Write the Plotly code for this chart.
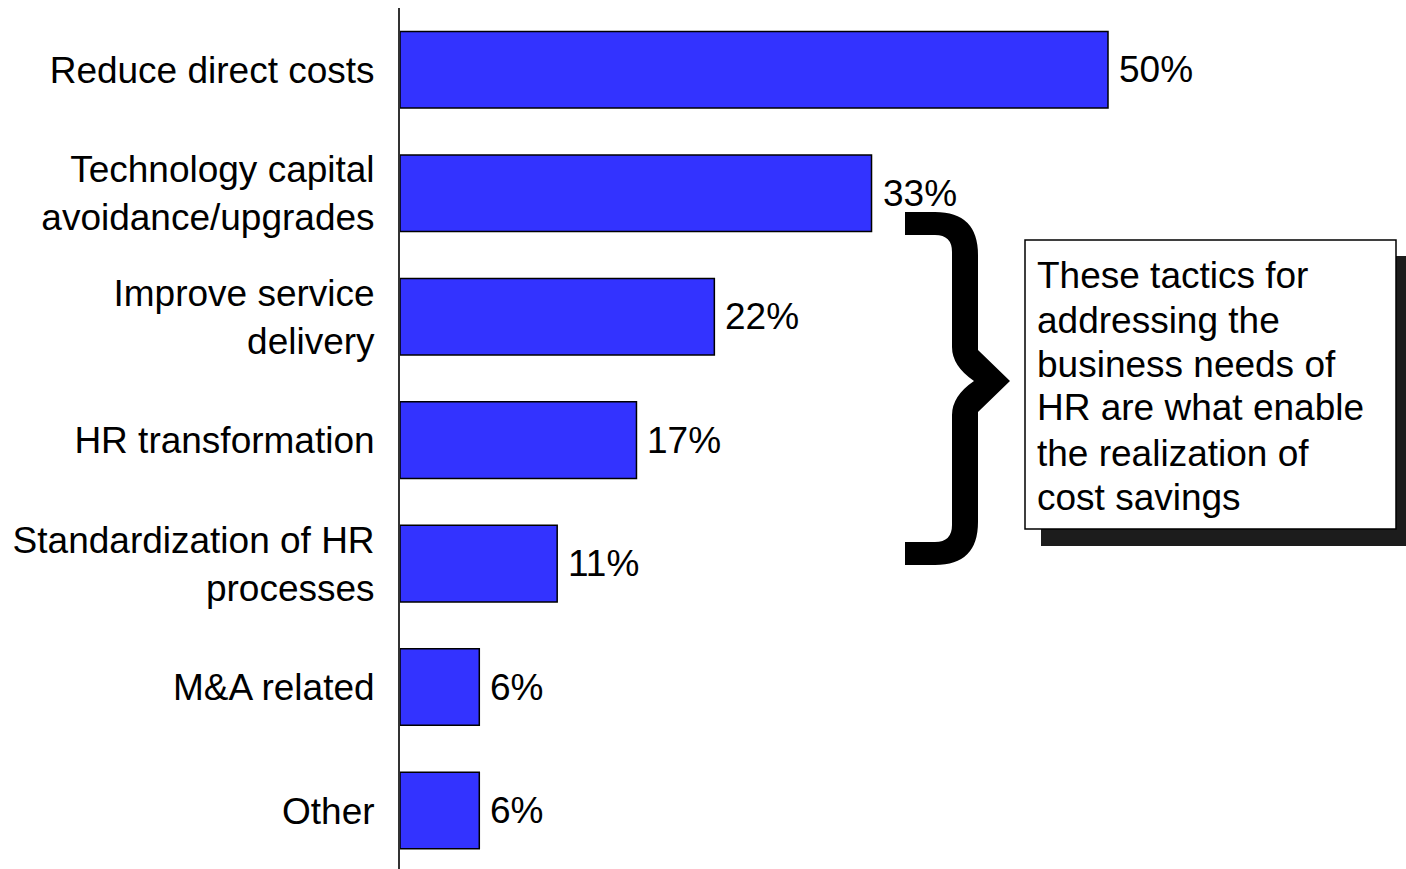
import plotly.graph_objects as go

categories = [
    "Reduce direct costs",
    "Technology capital<br>avoidance/upgrades",
    "Improve service<br>delivery",
    "HR transformation",
    "Standardization of HR<br>processes",
    "M&A related",
    "Other",
]
values = [50.0, 33.3, 22.2, 16.7, 11.1, 5.6, 5.6]
value_labels = ["50%", "33%", "22%", "17%", "11%", "6%", "6%"]
callout_lines = [
    "These tactics for",
    "addressing the",
    "business needs of",
    "HR are what enable",
    "the realization of",
    "cost savings",
]

W, H = 1406, 869
ML, MR, MT, MB = 400, 0, 8, 0
PW, PH = W - ML - MR, H - MT - MB
FONT = "Liberation Sans, Arial, sans-serif"
idx = list(range(len(categories)))

fig = go.Figure(go.Bar(
    x=values, y=idx, orientation="h", width=0.62,
    marker=dict(color="#3333FF", line=dict(color="#000000", width=1.5)),
    hoverinfo="skip",
))

# value labels
for i, (v, t) in enumerate(zip(values, value_labels)):
    fig.add_annotation(x=v, y=i, xref="x", yref="y", text=t, showarrow=False,
                       xanchor="left", yanchor="middle", xshift=9,
                       font=dict(family=FONT, size=37, color="#000000"))

def px(x):
    return (x - ML) / PW

def py(y):
    return (H - MB - y) / PH

def P(x, y):
    return f"{px(x):.5f},{py(y):.5f}"

# curly brace (filled path, in pixel coordinates converted to paper)
brace = (
    f"M {P(905,212)} L {P(935,212)} Q {P(978,212)} {P(978,255)} "
    f"L {P(978,350)} L {P(1010,381)} L {P(978,412)} L {P(978,522)} "
    f"Q {P(978,565)} {P(935,565)} L {P(905,565)} L {P(905,542)} L {P(935,542)} "
    f"Q {P(952,542)} {P(952,525)} L {P(952,415)} Q {P(952,396)} {P(974,381)} "
    f"Q {P(952,366)} {P(952,347)} L {P(952,252)} Q {P(952,235)} {P(935,235)} "
    f"L {P(905,235)} Z"
)
fig.add_shape(type="path", path=brace, xref="paper", yref="paper",
              fillcolor="#000000", line=dict(width=0), layer="above")

# callout box with shadow
fig.add_shape(type="rect", xref="paper", yref="paper",
              x0=px(1041), x1=px(1420), y0=py(546), y1=py(256),
              fillcolor="#1c1c1c", line=dict(width=0), layer="above")
fig.add_shape(type="rect", xref="paper", yref="paper",
              x0=px(1025), x1=px(1396), y0=py(529), y1=py(240),
              fillcolor="#ffffff", line=dict(color="#000000", width=1.5), layer="above")

line_y = [275, 320, 364, 408, 453, 497]
for t, yy in zip(callout_lines, line_y):
    fig.add_annotation(x=px(1035), y=py(yy), xref="paper", yref="paper", text=t,
                       showarrow=False, xanchor="left", yanchor="middle",
                       font=dict(family=FONT, size=37, color="#000000"))

fig.update_layout(
    width=W, height=H, autosize=False,
    margin=dict(l=ML, r=MR, t=MT, b=MB, pad=0),
    plot_bgcolor="#ffffff", paper_bgcolor="#ffffff",
    showlegend=False,
    font=dict(family=FONT, size=37, color="#000000"),
    xaxis=dict(range=[0, PW / 14.16], visible=False, fixedrange=True),
    yaxis=dict(
        range=[-0.5 + PH / 123.47, -0.5], tickmode="array", tickvals=idx,
        ticktext=categories, showline=True, linecolor="#333333", linewidth=2,
        showgrid=False, zeroline=False, ticks="", ticklabelstandoff=16,
        tickfont=dict(family=FONT, size=37, color="#000000"), fixedrange=True,
    ),
)

fig.write_html("out.html", config={"displayModeBar": False})
